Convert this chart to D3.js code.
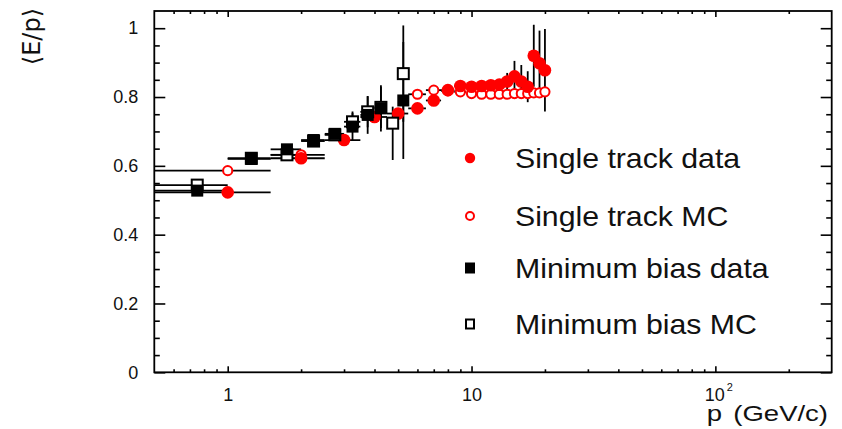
<!DOCTYPE html>
<html>
<head>
<meta charset="utf-8">
<script src="https://cdn.jsdelivr.net/npm/d3@7"></script>
<style>
  html, body { margin: 0; padding: 0; background: #fff; }
  svg { display: block; }
  text { font-family: "Liberation Sans", Arial, Helvetica, sans-serif; fill: #111; }
</style>
</head>
<body>
<svg id="chart" width="842" height="429"></svg>
<script>
// ---------------- data ----------------
const stDataP    = [1, 2, 3, 4, 5, 6, 7, 8, 9, 10, 11, 12, 13, 14, 15, 16, 17, 18, 19, 20];
const stDataV    = [0.523, 0.622, 0.675, 0.742, 0.752, 0.767, 0.79, 0.82, 0.832, 0.83, 0.832, 0.834, 0.836, 0.845, 0.86, 0.845, 0.83, 0.92, 0.898, 0.878];
const stDataXErr = [0.5, 0.5, 0.5, 0.5, 0.5, 0.5, 0.5, 0.5, 0.5, 0.5, 0.5, 0.5, 0.5, 0.5, 0.5, 0.5, 0.5, 0.5, 0.5, 0.5];
const stDataYErr = [0.005, 0.005, 0.005, 0.005, 0.006, 0.006, 0.006, 0.007, 0.008, 0.008, 0.01, 0.012, 0.015, 0.025, 0.045, 0.048, 0.045, 0.09, 0.095, 0.12];

const stMcP    = [1, 2, 6, 7, 8, 9, 10, 11, 12, 13, 14, 15, 16, 17, 18, 19, 20];
const stMcV    = [0.586, 0.632, 0.808, 0.82, 0.818, 0.815, 0.81, 0.808, 0.808, 0.808, 0.808, 0.81, 0.81, 0.81, 0.812, 0.812, 0.815];
const stMcXErr = [0.5, 0.5, 0.5, 0.5, 0.5, 0.5, 0.5, 0.5, 0.5, 0.5, 0.5, 0.5, 0.5, 0.5, 0.5, 0.5, 0.5];
const stMcYErr = [0.004, 0.004, 0.004, 0.004, 0.004, 0.004, 0.004, 0.004, 0.004, 0.004, 0.004, 0.005, 0.005, 0.005, 0.006, 0.006, 0.006];

const mbDataP    = [0.75, 1.25, 1.75, 2.25, 2.75, 3.25, 3.75, 4.25, 5.25];
const mbDataV    = [0.528, 0.62, 0.648, 0.675, 0.693, 0.714, 0.748, 0.767, 0.79];
const mbDataXErr = [0.25, 0.25, 0.25, 0.25, 0.25, 0.25, 0.25, 0.25, 0.25];
const mbDataYErr = [0.005, 0.005, 0.006, 0.008, 0.01, 0.04, 0.055, 0.067, 0.17];

const mbMcP     = [0.75, 1.25, 1.75, 2.25, 2.75, 3.25, 3.75, 4.25, 4.75, 5.25];
const mbMcV     = [0.544, 0.622, 0.632, 0.672, 0.69, 0.728, 0.757, 0.77, 0.724, 0.868];
const mbMcXErr  = [0.25, 0.25, 0.25, 0.25, 0.25, 0.25, 0.25, 0.25, 0.25, 0.25];
const mbMcYErrHi = [0.005, 0.005, 0.006, 0.008, 0.01, 0.03, 0.045, 0.06, 0.048, 0.14];
const mbMcYErrLo = [0.005, 0.005, 0.006, 0.008, 0.01, 0.03, 0.045, 0.06, 0.107, 0.14];

const legendLabels = ["Single track data", "Single track MC", "Minimum bias data", "Minimum bias MC"];

const yMajorTicks = [0, 0.2, 0.4, 0.6, 0.8, 1];
const yTickLabels = ["0", "0.2", "0.4", "0.6", "0.8", "1"];
const yMinorTicks = [0.05,0.1,0.15,0.25,0.3,0.35,0.45,0.5,0.55,0.65,0.7,0.75,0.85,0.9,0.95];
const xMajorTicks = [1, 10, 100];
const xTickLabels = ["1", "10", "10^2"];
const xMinorTicks = [0.6,0.7,0.8,0.9,2,3,4,5,6,7,8,9,20,30,40,50,60,70,80,90,200];

const xTitle = ["p", "(GeV/c)"];
const yTitle = "\u27E8E/p\u27E9";

// ---------------- layout ----------------
const X0 = 154.3, X1 = 831.7, Y0 = 372.3, Y1 = 11;
const svg = d3.select("#chart");
svg.append("rect").attr("width", 842).attr("height", 429).attr("fill", "#fff");

const x = d3.scaleLog().domain([0.5, 300]).range([X0, X1]);
const y = d3.scaleLinear().domain([0, 1.05]).range([Y0, Y1]);

const axisStyle = g => {
  g.select(".domain").remove();
  g.selectAll(".tick line").attr("stroke", "#000").attr("stroke-width", 1.6);
};

// Left axis
svg.append("g").attr("transform", `translate(${X0},0)`)
  .call(d3.axisLeft(y).tickValues(yMajorTicks).tickSize(-11).tickPadding(16)
    .tickFormat((d, i) => yTickLabels[i]))
  .call(axisStyle)
  .call(g => g.selectAll("text").attr("font-size", 18).attr("fill", "#111")
    .style("font-family", '"Liberation Sans", Arial, sans-serif'));
svg.append("g").attr("transform", `translate(${X0},0)`)
  .call(d3.axisLeft(y).tickValues(yMinorTicks).tickSize(-5.5).tickFormat(""))
  .call(axisStyle);
// Right axis (ticks only)
svg.append("g").attr("transform", `translate(${X1},0)`)
  .call(d3.axisRight(y).tickValues(yMajorTicks).tickSize(-11).tickFormat(""))
  .call(axisStyle);
svg.append("g").attr("transform", `translate(${X1},0)`)
  .call(d3.axisRight(y).tickValues(yMinorTicks).tickSize(-5.5).tickFormat(""))
  .call(axisStyle);

// Bottom axis
const xAxisG = svg.append("g").attr("transform", `translate(0,${Y0})`)
  .call(d3.axisBottom(x).tickValues(xMajorTicks).tickSize(-6).tickPadding(16)
    .tickFormat((d, i) => xTickLabels[i]))
  .call(axisStyle);
xAxisG.selectAll("text").attr("font-size", 18).attr("fill", "#111")
  .style("font-family", '"Liberation Sans", Arial, sans-serif')
  .each(function(d, i) {
    const lab = xTickLabels[i];
    if (lab.includes("^")) {
      const [base, sup] = lab.split("^");
      const t = d3.select(this).text(null);
      t.append("tspan").text(base);
      t.append("tspan").attr("font-size", 11).attr("dx", 2).attr("dy", "-0.9em").text(sup);
      t.attr("dx", 3);
    }
  });
svg.append("g").attr("transform", `translate(0,${Y0})`)
  .call(d3.axisBottom(x).tickValues(xMinorTicks).tickSize(-3).tickFormat(""))
  .call(axisStyle);
// Top axis
svg.append("g").attr("transform", `translate(0,${Y1})`)
  .call(d3.axisTop(x).tickValues(xMajorTicks).tickSize(-6).tickFormat(""))
  .call(axisStyle);
svg.append("g").attr("transform", `translate(0,${Y1})`)
  .call(d3.axisTop(x).tickValues(xMinorTicks).tickSize(-3).tickFormat(""))
  .call(axisStyle);

// Frame
svg.append("rect").attr("x", X0).attr("y", Y1).attr("width", X1 - X0).attr("height", Y0 - Y1)
  .attr("fill", "none").attr("stroke", "#000").attr("stroke-width", 1.8);

// Titles
const xt = svg.append("text").attr("transform", "translate(828,421) scale(1.25,1)")
  .attr("text-anchor", "end").attr("font-size", 22);
xt.append("tspan").text(xTitle[0]);
xt.append("tspan").attr("dx", 9).text(xTitle[1]);

svg.append("text").attr("transform", "translate(40,8) rotate(-90)")
  .attr("text-anchor", "end").attr("font-size", 24)
  .style("font-family", '"DejaVu Sans", "Liberation Sans", sans-serif')
  .text(yTitle);

// ---------------- data marks ----------------
const plot = svg.append("g");
function series(P, V, XE, YELo, YEHi) {
  return P.map((p, i) => ({ p, v: V[i], xe: XE[i], lo: YELo[i], hi: YEHi[i] }));
}
const stData = series(stDataP, stDataV, stDataXErr, stDataYErr, stDataYErr);
const stMc   = series(stMcP, stMcV, stMcXErr, stMcYErr, stMcYErr);
const mbData = series(mbDataP, mbDataV, mbDataXErr, mbDataYErr, mbDataYErr);
const mbMc   = series(mbMcP, mbMcV, mbMcXErr, mbMcYErrLo, mbMcYErrHi);

const errG = plot.append("g").attr("stroke", "#000").attr("stroke-width", 1.8);
[stMc, stData, mbMc, mbData].forEach(s => {
  errG.selectAll(null).data(s).enter().append("line")
    .attr("x1", d => x(Math.max(d.p - d.xe, 0.5))).attr("x2", d => x(d.p + d.xe))
    .attr("y1", d => y(d.v)).attr("y2", d => y(d.v));
  errG.selectAll(null).data(s).enter().append("line")
    .attr("x1", d => x(d.p)).attr("x2", d => x(d.p))
    .attr("y1", d => y(d.v - d.lo)).attr("y2", d => y(d.v + d.hi));
});

// Single track MC (open red circles)
plot.append("g").selectAll("circle").data(stMc).enter().append("circle")
  .attr("cx", d => x(d.p)).attr("cy", d => y(d.v)).attr("r", 4.6)
  .attr("fill", "#fff").attr("stroke", "#ff0000").attr("stroke-width", 2);
// Single track data (filled red circles)
plot.append("g").selectAll("circle").data(stData).enter().append("circle")
  .attr("cx", d => x(d.p)).attr("cy", d => y(d.v)).attr("r", 6.3)
  .attr("fill", "#ff0000");
// Minimum bias MC (open black squares)
plot.append("g").selectAll("rect").data(mbMc).enter().append("rect")
  .attr("x", d => x(d.p) - 5.5).attr("y", d => y(d.v) - 5.5).attr("width", 11).attr("height", 11)
  .attr("fill", "#fff").attr("stroke", "#000").attr("stroke-width", 2);
// Minimum bias data (filled black squares)
plot.append("g").selectAll("rect").data(mbData).enter().append("rect")
  .attr("x", d => x(d.p) - 6).attr("y", d => y(d.v) - 6).attr("width", 12).attr("height", 12)
  .attr("fill", "#000");

// ---------------- legend ----------------
const legRowY = [158, 216, 268, 324];
const leg = svg.append("g");
legendLabels.forEach((lab, i) => {
  const cy = legRowY[i], cx = 470;
  if (i === 0) leg.append("circle").attr("cx", cx).attr("cy", cy).attr("r", 5.2).attr("fill", "#ff0000");
  if (i === 1) leg.append("circle").attr("cx", cx).attr("cy", cy).attr("r", 4).attr("fill", "#fff")
    .attr("stroke", "#ff0000").attr("stroke-width", 2);
  if (i === 2) leg.append("rect").attr("x", cx - 5).attr("y", cy - 5.5).attr("width", 10).attr("height", 11).attr("fill", "#000");
  if (i === 3) leg.append("rect").attr("x", cx - 4).attr("y", cy - 4.5).attr("width", 8).attr("height", 9)
    .attr("fill", "#fff").attr("stroke", "#000").attr("stroke-width", 2);
  leg.append("text").attr("transform", `translate(515,${cy + 9.5}) scale(1.08,1)`)
    .attr("font-size", 28).text(lab);
});
</script>
</body>
</html>
